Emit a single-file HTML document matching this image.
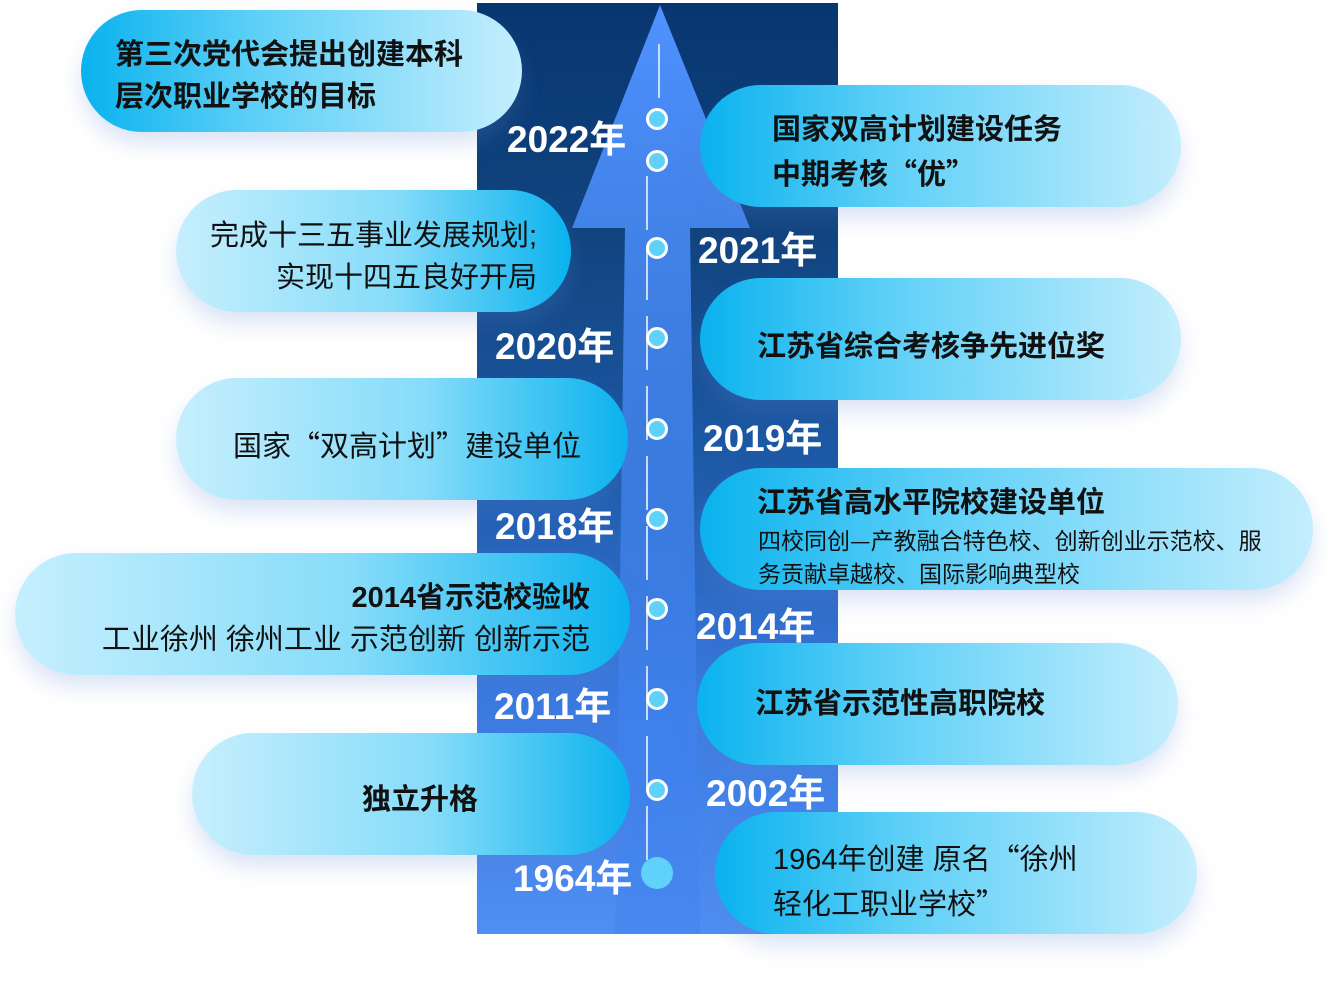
<!DOCTYPE html>
<html><head><meta charset="utf-8"><style>
body{margin:0;width:1327px;height:989px;background:#fff;position:relative;overflow:hidden;font-family:"Liberation Sans","Noto Sans CJK SC",sans-serif;}
.a{position:absolute}
.col{left:477px;top:3px;width:361px;height:931px;background:linear-gradient(180deg,#083670 0%,#11447f 25%,#1e5aa8 50%,#3a7ae0 75%,#4f8ef2 100%);}
.p{position:absolute;height:122px;border-radius:61px;box-shadow:0 12px 22px rgba(90,130,210,0.22);}
.R{background:linear-gradient(90deg,#0ab2ee 0%,#5fd0f7 40%,#c4eefd 100%);}
.L{background:linear-gradient(90deg,#c6effd 0%,#86dcf9 55%,#0ab2ee 100%);}
.t{position:absolute;font-size:29px;color:#111;line-height:42px;white-space:nowrap}
.b{font-weight:bold}
.q{font-family:"Noto Sans CJK SC",sans-serif}
.y{position:absolute;color:#fff;font-weight:bold;font-size:37px;white-space:nowrap;z-index:5;line-height:40px}
.d{position:absolute;width:16px;height:16px;border-radius:50%;background:#5fd2fb;border:3px solid #fff;z-index:4}
</style></head><body>
<div class="a col"></div>
<svg class="a" style="left:0;top:0;z-index:1" width="1327" height="989">
<defs><linearGradient id="g" x1="0" y1="0" x2="0" y2="1"><stop offset="0" stop-color="#4f92ff"/><stop offset="1" stop-color="#3d80ee" stop-opacity="0.4"/></linearGradient></defs>
<polygon points="660,5 750,228 690,228 700,934 615,934 625,228 572,228" fill="url(#g)"/>
<line x1="659" y1="44" x2="659" y2="98" stroke="#c9dcf5" stroke-width="2"/>
<line x1="647" y1="176" x2="647" y2="860" stroke="#c9dcf5" stroke-width="2" stroke-dasharray="54,16"/>
</svg>
<div class="d" style="left:646px;top:108px"></div>
<div class="d" style="left:646px;top:150px"></div>
<div class="d" style="left:646px;top:237px"></div>
<div class="d" style="left:646px;top:327px"></div>
<div class="d" style="left:646px;top:418px"></div>
<div class="d" style="left:646px;top:508px"></div>
<div class="d" style="left:646px;top:598px"></div>
<div class="d" style="left:646px;top:688px"></div>
<div class="d" style="left:646px;top:779px"></div>
<div class="a" style="left:641px;top:857px;width:32px;height:32px;border-radius:50%;background:#5fd2fb;z-index:4"></div>

<div class="p R" style="left:81px;top:10px;width:441px;z-index:2"></div>
<div class="t b" style="left:115px;top:34px;z-index:3">第三次党代会提出创建本科<br>层次职业学校的目标</div>

<div class="p R" style="left:700px;top:85px;width:481px;z-index:2"></div>
<div class="t b" style="left:772px;top:109px;z-index:3">国家双高计划建设任务<br>中期考核<span class="q">“</span>优<span class="q">”</span></div>

<div class="p L" style="left:176px;top:190px;width:395px;z-index:2"></div>
<div class="t" style="right:790px;top:215px;text-align:right;z-index:3">完成十三五事业发展规划;<br>实现十四五良好开局</div>

<div class="p R" style="left:700px;top:278px;width:481px;z-index:2"></div>
<div class="t b" style="left:757px;top:326px;z-index:3">江苏省综合考核争先进位奖</div>

<div class="p L" style="left:176px;top:378px;width:452px;z-index:2"></div>
<div class="t" style="left:233px;top:423px;z-index:3">国家<span class="q">“</span>双高计划<span class="q">”</span>建设单位</div>

<div class="p R" style="left:700px;top:468px;width:613px;z-index:2"></div>
<div class="t b" style="left:757px;top:482px;z-index:3">江苏省高水平院校建设单位</div>
<div class="t" style="left:758px;top:523px;font-size:23px;line-height:33px;z-index:3">四校同创<span class="q">—</span>产教融合特色校、创新创业示范校、服<br>务贡献卓越校、国际影响典型校</div>

<div class="p L" style="left:15px;top:553px;width:615px;z-index:2"></div>
<div class="t" style="right:737px;top:577px;text-align:right;z-index:3"><span class="b">2014省示范校验收</span><br>工业徐州 徐州工业 示范创新 创新示范</div>

<div class="p R" style="left:697px;top:643px;width:481px;z-index:2"></div>
<div class="t b" style="left:755px;top:683px;z-index:3">江苏省示范性高职院校</div>

<div class="p L" style="left:192px;top:733px;width:438px;z-index:2"></div>
<div class="t b" style="left:362px;top:779px;z-index:3">独立升格</div>

<div class="p R" style="left:715px;top:812px;width:482px;z-index:2"></div>
<div class="t" style="left:773px;top:836px;z-index:3">1964年创建 原名<span class="q">“</span>徐州<br>轻化工职业学校<span class="q">”</span></div>

<div class="y" style="left:507px;top:120px">2022年</div>
<div class="y" style="left:698px;top:231px">2021年</div>
<div class="y" style="left:495px;top:327px">2020年</div>
<div class="y" style="left:703px;top:419px">2019年</div>
<div class="y" style="left:495px;top:507px">2018年</div>
<div class="y" style="left:696px;top:607px">2014年</div>
<div class="y" style="left:494px;top:687px">2011年</div>
<div class="y" style="left:706px;top:774px">2002年</div>
<div class="y" style="left:513px;top:859px">1964年</div>
</body></html>
